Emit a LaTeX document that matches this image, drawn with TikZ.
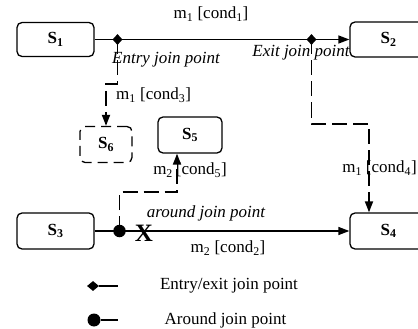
\documentclass[tikz,border=0pt]{standalone}
\usepackage{fontspec}
\setmainfont{Liberation Serif}
\usetikzlibrary{shapes.geometric,arrows.meta}
\begin{document}
\begin{tikzpicture}[x=1pt,y=-1pt,
  every node/.style={font=\fontsize{17}{20}\selectfont, inner sep=0pt},
  statebox/.style={draw, line width=1.3pt, rounded corners=5pt, font=\fontsize{17}{20}\selectfont\bfseries},
  dstatebox/.style={statebox, dash pattern=on 10pt off 6pt},
  solidline/.style={line width=1.4pt},
  dashline/.style={line width=1.8pt, dash pattern=on 15pt off 6pt},
  tip/.style={-{Triangle[length=11pt,width=8pt]}},
  joindot/.style={diamond, fill=black, minimum width=10pt, minimum height=11pt},
  arounddot/.style={circle, fill=black, minimum size=12.5pt},
  lbl/.style={font=\fontsize{17}{20}\selectfont},
  ilbl/.style={font=\fontsize{17}{20}\selectfont\itshape}]
\useasboundingbox (0,0) rectangle (418,329);
% states
\node[statebox, minimum width=77pt, minimum height=34pt] (S1) at (55.5,39.5) {S\textsubscript{1}};
\node[statebox, minimum width=77pt, minimum height=35pt] (S2) at (388.5,39.5) {S\textsubscript{2}};
\node[statebox, minimum width=77pt, minimum height=36pt] (S3) at (55.5,231) {S\textsubscript{3}};
\node[statebox, minimum width=77pt, minimum height=36pt] (S4) at (388.5,231) {S\textsubscript{4}};
\node[statebox, minimum width=64pt, minimum height=36pt] (S5) at (190,135) {S\textsubscript{5}};
\node[dstatebox, minimum width=52pt, minimum height=36pt] (S6) at (106,144.5) {S\textsubscript{6}};
% join points positions
\coordinate (ejp) at (117.5,39.5);
\coordinate (xjp) at (311.5,39.5);
\coordinate (ajp) at (119.5,231);
\coordinate (c1) at (106,84);
\coordinate (c2) at (369,124);
\coordinate (c3) at (177,192);
% main connectors
\draw[solidline, tip] (S1) -- (S2);
\draw[solidline, tip] (S3) -- (S4);
% dashed advice connectors
\draw[dashline, tip] (ejp) |- (c1) -- (S6.north);
\draw[dashline, tip] (xjp) |- (c2) -- (c2 |- S4.north);
\draw[dashline, tip] (ajp) |- (c3) -- (c3 |- S5.south);
% join point markers
\node[joindot] (ej) at (ejp) {};
\node[joindot] (xj) at (xjp) {};
\node[arounddot] (aj) at (ajp) {};
\node[font=\fontsize{25}{28}\selectfont\bfseries] (X) at (144,233) {X};
% labels
\node[lbl] (l1) at (211,14) {m\textsubscript{1} [cond\textsubscript{1}]};
\node[ilbl, anchor=west] (l2) at (112,60) {Entry join point};
\node[ilbl] (l3) at (301,53) {Exit join point};
\node[lbl, anchor=west] (l4) at (116,95) {m\textsubscript{1} [cond\textsubscript{3}]};
\node[lbl] (l5) at (190,170) {m\textsubscript{2}\hspace{3pt}[cond\textsubscript{5}]};
\node[lbl, anchor=east] (l6) at (417,168) {m\textsubscript{1}\hspace{4pt}[cond\textsubscript{4}]};
\node[ilbl] (l7) at (206,213) {around join point};
\node[lbl] (l8) at (228,248) {m\textsubscript{2} [cond\textsubscript{2}]};
% legend
\node[joindot, minimum width=12pt, minimum height=10pt] (ld) at (93,286) {};
\coordinate (le) at (118,286);
\draw[solidline] (ld) -- (le);
\node[arounddot, minimum size=13pt] (lc) at (94,320) {};
\coordinate (lf) at (118,320);
\draw[solidline] (lc) -- (lf);
\node[lbl] (lt1) at (229,286) {Entry/exit join point};
\node[lbl] (lt2) at (225.5,320) {Around join point};
\end{tikzpicture}
\end{document}
